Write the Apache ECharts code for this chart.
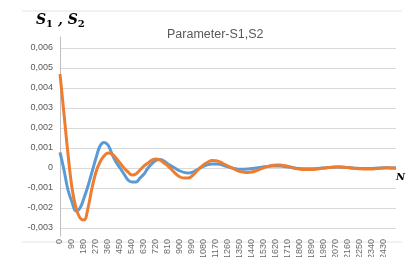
<!DOCTYPE html>
<html>
<head>
<meta charset="utf-8">
<script src="https://cdn.jsdelivr.net/npm/echarts@6/dist/echarts.min.js"></script>
<style>
  html, body { margin: 0; padding: 0; background: #fff; }
  #chart { width: 411px; height: 257px; }
</style>
</head>
<body>
<div id="chart"></div>
<script>
// N values, step 30
const nValues = [];
for (let n = 0; n <= 2520; n += 30) nValues.push(String(n));

// S1 (blue)
const s1 = [
  0.00078, -0.0001, -0.0011, -0.0017, -0.00215, -0.002, -0.0015, -0.0009, -0.0002, 0.0005,
  0.0011, 0.00128, 0.00115, 0.0007, 0.0003, 0.0, -0.0003, -0.0006, -0.0007, -0.0007,
  -0.0005, -0.0003, 0.0, 0.00022, 0.00038, 0.00042, 0.00035, 0.0002, 0.00008, -0.00004,
  -0.00015, -0.00022, -0.00025, -0.00022, -0.00012, 0.0, 0.0001, 0.00017, 0.0002, 0.0002,
  0.00018, 0.00012, 0.00006, 0.0, -0.00004, -0.00006, -0.00006, -0.00005, -0.00003, 0.0,
  0.00003, 0.00006, 0.00008, 0.0001, 0.0001, 0.0001, 0.00008, 0.00005, 0.00002, -0.00001,
  -0.00003, -0.00004, -0.00004, -0.00004, -0.00003, -0.00001, 0.0, 0.00002, 0.00004, 0.00005,
  0.00005, 0.00004, 0.00002, 0.0, -0.00001, -0.00002, -0.00002, -0.00002, -0.00002, -0.00001,
  0.0, 0.00001, 0.00001, 0.0, 0.0
];

// S2 (orange)
const s2 = [
  0.0047, 0.0027, 0.0007, -0.001, -0.002, -0.0025, -0.0026, -0.002, -0.001, -0.0002,
  0.0003, 0.0006, 0.00075, 0.0007, 0.0005, 0.00025, 0.0, -0.0002, -0.00035, -0.0003,
  -0.0001, 0.0001, 0.00025, 0.0004, 0.00045, 0.0004, 0.00025, 0.0001, -0.0001, -0.0003,
  -0.00045, -0.0005, -0.0005, -0.0004, -0.0002, 0.0, 0.00018, 0.0003, 0.00037, 0.00036,
  0.0003, 0.0002, 0.0001, 0.0, -0.0001, -0.00018, -0.00021, -0.00022, -0.0002, -0.00014,
  -0.00006, 0.00002, 0.00008, 0.00013, 0.00015, 0.00015, 0.00012, 0.00008, 0.00002, -0.00003,
  -0.00006, -0.00008, -0.00008, -0.00008, -0.00006, -0.00003, 0.0, 0.00002, 0.00004, 0.00005,
  0.00005, 0.00004, 0.00002, 0.0, -0.00002, -0.00004, -0.00005, -0.00005, -0.00005, -0.00003,
  -0.00001, 0.0, 0.00001, 0.0, 0.0
];

const yTicks = [-0.003, -0.002, -0.001, 0, 0.001, 0.002, 0.003, 0.004, 0.005, 0.006];

const chart = echarts.init(document.getElementById('chart'));
chart.setOption({
  animation: false,
  backgroundColor: '#fff',
  title: {
    text: 'Parameter-S1,S2',
    left: 162,
    top: 23,
    textStyle: { fontFamily: 'Liberation Sans', fontSize: 12.5, fontWeight: 'normal', color: '#595959' }
  },
  grid: { left: 60, right: 15, top: 37, bottom: 21, containLabel: false, outerBoundsMode: 'none' },
  xAxis: {
    type: 'category',
    boundaryGap: false,
    data: nValues,
    axisLine: { onZero: true, lineStyle: { color: '#d9d9d9', width: 1 } },
    axisTick: { show: false },
    axisLabel: {
      rotate: 90,
      margin: 3,
      fontSize: 9,
      fontFamily: 'Liberation Sans',
      color: '#6b6b6b',
      width: 60,
      overflow: 'none',
      interval: (i, v) => Number(v) % 90 === 0 && Number(v) <= 2430
    },
    splitLine: { show: false }
  },
  yAxis: {
    type: 'value',
    min: -0.0034,
    max: 0.00655,
    axisLine: { show: true, lineStyle: { color: '#bfbfbf', width: 1 } },
    axisTick: { show: false, customValues: yTicks },
    axisLabel: {
      customValues: yTicks,
      margin: 7,
      fontSize: 9,
      fontFamily: 'Liberation Sans',
      color: '#595959',
      formatter: v => Math.abs(v) < 1e-9 ? '0' : v.toFixed(3).replace('.', ',')
    },
    splitLine: { show: true, lineStyle: { color: '#d9d9d9', width: 1 } }
  },
  series: [
    {
      name: 'S1', type: 'line', data: s1, smooth: 0.4, showSymbol: false,
      lineStyle: { color: '#5b9bd5', width: 3 }, itemStyle: { color: '#5b9bd5' }
    },
    {
      name: 'S2', type: 'line', data: s2, smooth: 0.4, showSymbol: false,
      lineStyle: { color: '#ed7d31', width: 3 }, itemStyle: { color: '#ed7d31' }
    }
  ],
  graphic: [
    // axis names
    {
      type: 'text', left: 36, top: 13,
      style: {
        text: '{s|S}{b|1}{s| , S}{b|2}',
        rich: {
          s: { fontFamily: 'DejaVu Serif', fontStyle: 'italic', fontWeight: 'bold', fontSize: 14, fill: '#000' },
          b: { fontFamily: 'DejaVu Serif', fontWeight: 'bold', fontSize: 10, fill: '#000', padding: [9, 0, 0, 0] }
        }
      }
    },
    {
      type: 'text', left: 396, top: 172,
      style: { text: 'N', fontFamily: 'DejaVu Serif', fontStyle: 'italic', fontWeight: 'bold', fontSize: 10, fill: '#000' }
    },
    // page frame remnants
    { type: 'line', shape: { x1: 22, y1: 11, x2: 402, y2: 11 }, style: { stroke: '#e3e3e3', lineWidth: 1 } },
    { type: 'line', shape: { x1: 22, y1: 242, x2: 402, y2: 242 }, style: { stroke: '#e3e3e3', lineWidth: 1 } }
  ]
});
</script>
</body>
</html>
